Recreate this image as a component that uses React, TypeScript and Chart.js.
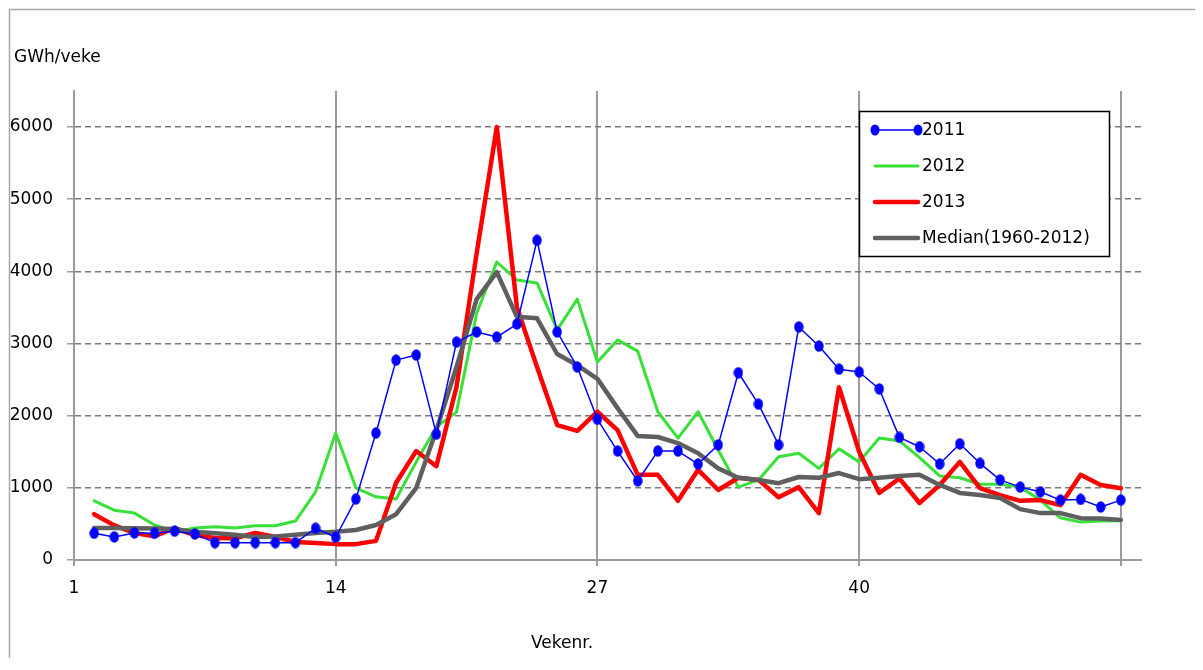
import React, { useEffect, useRef } from "react";
import { Chart, registerables } from "chart.js";

Chart.register(...registerables);

const weeks = [2, 3, 4, 5, 6, 7, 8, 9, 10, 11, 12, 13, 14, 15, 16, 17, 18, 19, 20, 21, 22, 23, 24, 25, 26, 27, 28, 29, 30, 31, 32, 33, 34, 35, 36, 37, 38, 39, 40, 41, 42, 43, 44, 45, 46, 47, 48, 49, 50, 51, 52, 53];

const y2011 = [370, 320, 375, 370, 400, 360, 240, 240, 240, 240, 240, 440, 315, 845, 1760, 2770, 2840, 1745, 3020, 3160, 3090, 3270, 4430, 3160, 2675, 1950, 1510, 1095, 1510, 1510, 1330, 1595, 2595, 2160, 1595, 3230, 2965, 2645, 2605, 2370, 1700, 1570, 1330, 1610, 1340, 1110, 1010, 945, 830, 840, 735, 830];

const y2012 = [820, 690, 650, 485, 390, 445, 460, 445, 475, 475, 540, 945, 1760, 1000, 875, 845, 1360, 1845, 2050, 3420, 4130, 3880, 3840, 3190, 3615, 2745, 3050, 2895, 2055, 1690, 2055, 1525, 1010, 1110, 1430, 1480, 1270, 1540, 1360, 1690, 1650, 1420, 1165, 1140, 1050, 1050, 1010, 830, 585, 525, 540, 545];

const y2013 = [635, 480, 375, 330, 440, 345, 305, 300, 375, 320, 250, 235, 220, 220, 265, 1070, 1510, 1300, 2400, 4250, 6000, 3505, 2675, 1870, 1790, 2055, 1800, 1180, 1180, 820, 1250, 970, 1140, 1110, 870, 1010, 650, 2395, 1500, 930, 1130, 790, 1040, 1360, 995, 900, 820, 830, 760, 1180, 1040, 995];

const median = [445, 445, 440, 435, 430, 390, 370, 350, 320, 325, 350, 375, 390, 415, 485, 635, 1000, 1800, 2675, 3615, 3990, 3370, 3350, 2855, 2700, 2510, 2105, 1720, 1705, 1620, 1480, 1270, 1140, 1110, 1065, 1150, 1140, 1205, 1120, 1140, 1165, 1180, 1040, 930, 900, 860, 705, 650, 650, 580, 575, 555];

const seriesLabels = ["2011", "2012", "2013", "Median(1960-2012)"];
const xTickValues = [1, 14, 27, 40, 53];
const xTickLabels = ["1", "14", "27", "40", ""];
const yTickValues = [0, 1000, 2000, 3000, 4000, 5000, 6000];
const yTitle = "GWh/veke";
const xTitle = "Vekenr.";

const FONT = "DejaVu Sans";
const W = 1190;
const H = 650;

function makeMarker(color: string) {
  const c = document.createElement("canvas");
  c.width = 10;
  c.height = 12;
  const g = c.getContext("2d")!;
  g.fillStyle = color;
  g.beginPath();
  g.ellipse(5, 6, 4.7, 5.7, 0, 0, Math.PI * 2);
  g.fill();
  return c;
}

export default function App() {
  const ref = useRef<HTMLCanvasElement>(null);

  useEffect(() => {
    const canvas = ref.current;
    if (!canvas) return;
    const toPts = (arr: number[]) => weeks.map((w, i) => ({ x: w, y: arr[i] }));
    const marker = makeMarker("#0000ff");

    const overlay = {
      id: "overlay",
      afterDraw(chart: any) {
        const ctx = chart.ctx as CanvasRenderingContext2D;
        ctx.save();
        // outer frame
        ctx.strokeStyle = "#a6a6a6";
        ctx.lineWidth = 1.5;
        ctx.setLineDash([]);
        ctx.beginPath();
        ctx.moveTo(1.5, 2000);
        ctx.lineTo(1.5, 1.5);
        ctx.lineTo(3000, 1.5);
        ctx.stroke();
        // titles
        ctx.fillStyle = "#000";
        ctx.font = `17px "${FONT}"`;
        ctx.textBaseline = "middle";
        ctx.textAlign = "left";
        ctx.fillText(yTitle, 6, 50);
        ctx.textAlign = "center";
        ctx.fillText(xTitle, 554, 636);
        // legend
        const lx = 851.5, ly = 103.5, lw = 250, lh = 145;
        ctx.fillStyle = "#fff";
        ctx.fillRect(lx, ly, lw, lh);
        ctx.strokeStyle = "#000";
        ctx.lineWidth = 1.5;
        ctx.strokeRect(lx, ly, lw, lh);
        const dsList = chart.data.datasets;
        for (let i = 0; i < dsList.length; i++) {
          const ds = dsList[i];
          const y = 122 + i * 36;
          ctx.strokeStyle = ds.borderColor;
          ctx.lineWidth = ds.borderWidth;
          ctx.lineCap = "round";
          ctx.beginPath();
          ctx.moveTo(867, y);
          ctx.lineTo(910, y);
          ctx.stroke();
          if (ds.pointRadius > 0) {
            ctx.fillStyle = ds.borderColor;
            for (const px of [867, 910]) {
              ctx.beginPath();
              ctx.ellipse(px, y, 4.5, 5.5, 0, 0, Math.PI * 2);
              ctx.fill();
            }
          }
          ctx.fillStyle = "#000";
          ctx.textAlign = "left";
          ctx.fillText(ds.label, 914, y + 1);
        }
        ctx.restore();
      },
    };

    const chart = new Chart(canvas, {
      type: "line",
      data: {
        datasets: [
          {
            label: seriesLabels[0],
            data: toPts(y2011),
            borderColor: "#0000ff",
            backgroundColor: "#0000ff",
            borderWidth: 1.5,
            pointRadius: 5,
            pointStyle: marker,
            pointBorderWidth: 0,
            pointBackgroundColor: "#0000ff",
            borderJoinStyle: "round",
            order: 0,
          },
          {
            label: seriesLabels[1],
            data: toPts(y2012),
            borderColor: "#38e038",
            borderWidth: 3,
            pointRadius: 0,
            borderJoinStyle: "round",
            borderCapStyle: "round",
            order: 3,
          },
          {
            label: seriesLabels[2],
            data: toPts(y2013),
            borderColor: "#ff0000",
            borderWidth: 4.5,
            pointRadius: 0,
            borderJoinStyle: "round",
            borderCapStyle: "round",
            order: 2,
          },
          {
            label: seriesLabels[3],
            data: toPts(median),
            borderColor: "#5f5f5f",
            borderWidth: 4.5,
            pointRadius: 0,
            borderJoinStyle: "round",
            borderCapStyle: "round",
            order: 1,
          },
        ] as any,
      },
      options: {
        animation: false,
        responsive: false,
        devicePixelRatio: 1,
        layout: { padding: { left: 0, top: 83, right: W - 1133, bottom: 0 } },
        plugins: {
          legend: { display: false },
          title: { display: false },
          tooltip: { enabled: false },
        },
        elements: { line: { tension: 0 } },
        scales: {
          x: {
            type: "linear",
            min: 1,
            max: 54,
            afterBuildTicks: (scale: any) => {
              scale.ticks = xTickValues.map((v) => ({ value: v }));
            },
            afterFit: (scale: any) => {
              scale.height = H - 552;
            },
            ticks: {
              autoSkip: false,
              maxRotation: 0,
              padding: 12,
              color: "#000",
              font: { family: FONT, size: 17 },
              callback: (v: any) => {
                const idx = xTickValues.indexOf(Number(v));
                return idx >= 0 ? xTickLabels[idx] : "";
              },
            },
            grid: {
              color: "#9a9a9a",
              lineWidth: 2,
              tickLength: 6,
              tickColor: "#9a9a9a",
            },
            border: { display: true, color: "#9a9a9a", width: 2 },
          },
          y: {
            type: "linear",
            min: 0,
            max: 6500,
            afterBuildTicks: (scale: any) => {
              scale.ticks = yTickValues.map((v) => ({ value: v }));
            },
            afterFit: (scale: any) => {
              scale.width = 66;
            },
            ticks: {
              padding: 14,
              color: "#000",
              font: { family: FONT, size: 17 },
              callback: (v: any) => String(v),
            },
            grid: {
              color: (c: any) => (c.tick && c.tick.value === 0 ? "rgba(0,0,0,0)" : "#7a7a7a"),
              lineWidth: 1.5,
              tickLength: 7,
              tickColor: "#9a9a9a",
              tickWidth: 1.5,
            },
            border: { display: true, color: "#9a9a9a", width: 2, dash: [6, 4] },
          },
        },
      } as any,
      plugins: [overlay],
    });

    return () => chart.destroy();
  }, []);

  return <canvas ref={ref} width={W} height={H} style={{ display: "block" }} />;
}
